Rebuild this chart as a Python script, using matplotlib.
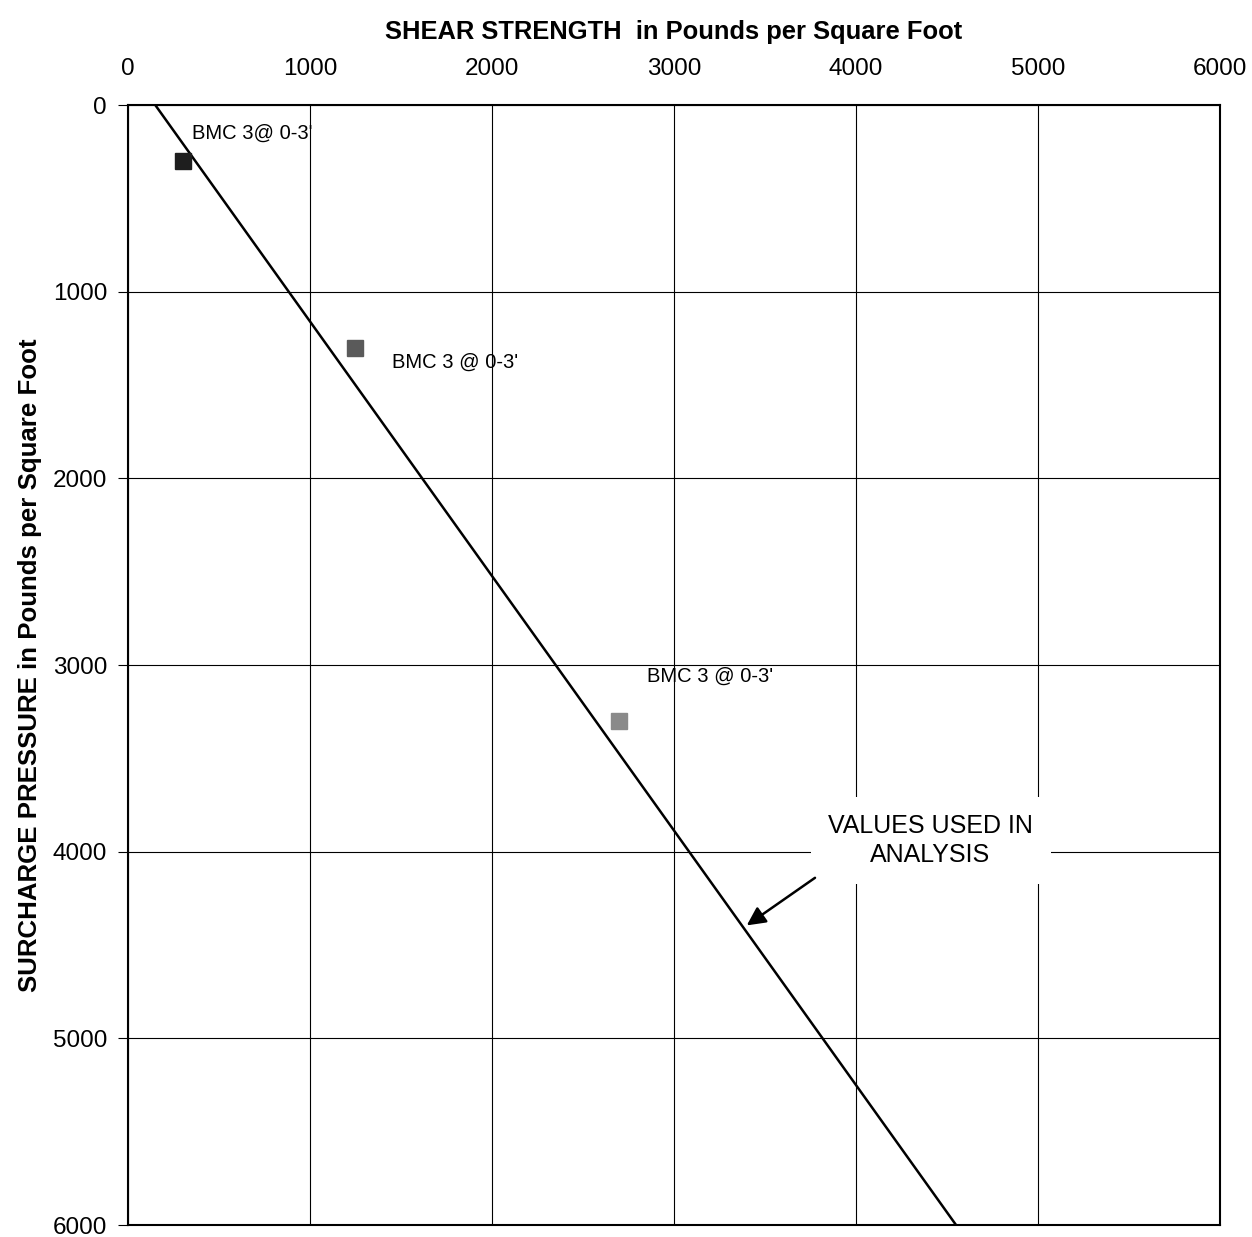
import matplotlib.pyplot as plt

plt.rcParams['font.family'] = ['Liberation Sans', 'DejaVu Sans']

# test results
shear = [300, 1250, 2700]
surcharge = [300, 1300, 3300]
point_colors = ['#1e1e1e', '#5a5a5a', '#8a8a8a']
labels = ["BMC 3@ 0-3'", "BMC 3 @ 0-3'", "BMC 3 @ 0-3'"]
label_x = [352, 1450, 2850]
label_y = [150, 1380, 3060]

# design line (values used in analysis)
line_shear = [150, 4550]
line_surcharge = [0, 6000]

ticks = [0, 1000, 2000, 3000, 4000, 5000, 6000]

fig = plt.figure(figsize=(12.52, 12.37), dpi=100)
ax = fig.add_axes([0.1022, 0.0097, 0.8722, 0.9054])

ax.set_xlim(0, 6000)
ax.set_ylim(6000, 0)
ax.set_xticks(ticks)
ax.set_yticks(ticks)
ax.xaxis.tick_top()
ax.xaxis.set_label_position('top')
ax.tick_params(axis='x', length=0, pad=18, labelsize=17.5)
ax.tick_params(axis='y', length=7, pad=8, labelsize=17.5)
ax.grid(True, color='black', linewidth=0.8)
for s in ax.spines.values():
    s.set_linewidth(1.5)

ax.plot(line_shear, line_surcharge, color='black', linewidth=1.8, zorder=3)
for x, y, c in zip(shear, surcharge, point_colors):
    ax.plot(x, y, marker='s', markersize=11, color=c, markeredgecolor=c, zorder=4)
for x, y, t in zip(label_x, label_y, labels):
    ax.text(x, y, t, fontsize=14.5, ha='left', va='center', zorder=2)

ax.text(4410, 3940, 'VALUES USED IN\nANALYSIS', fontsize=18, ha='center', va='center',
        linespacing=1.25, zorder=5,
        bbox=dict(boxstyle='square,pad=0.7', facecolor='white', edgecolor='none'))
ax.annotate('', xy=(3400, 4395), xytext=(3775, 4140),
            arrowprops=dict(arrowstyle='-|>', color='black', lw=1.8,
                            mutation_scale=28, shrinkA=0, shrinkB=0),
            zorder=5)

ax.set_xlabel('SHEAR STRENGTH  in Pounds per Square Foot', fontsize=18.4,
              fontweight='bold', labelpad=14)
ax.set_ylabel('SURCHARGE PRESSURE in Pounds per Square Foot', fontsize=18.6,
              fontweight='bold', labelpad=8)

fig.savefig('out.png', dpi=100)
